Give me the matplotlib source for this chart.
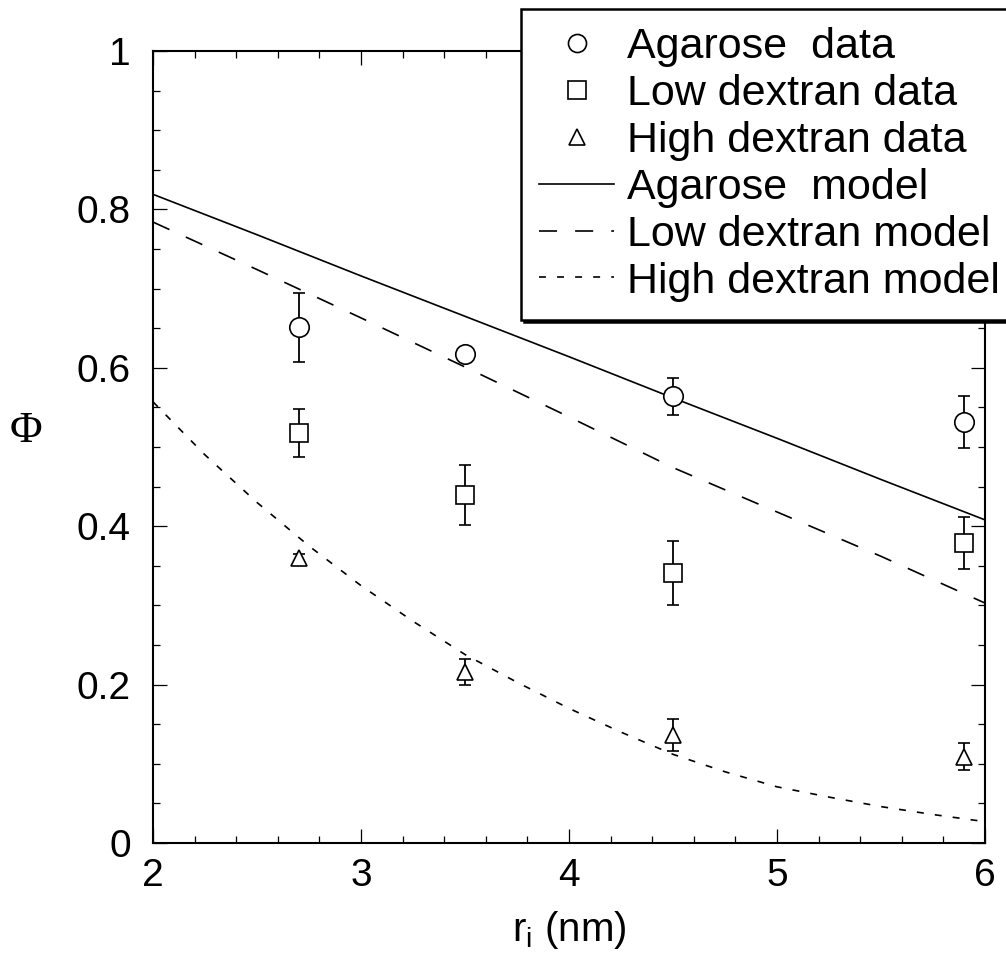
import matplotlib
matplotlib.use("Agg")
import matplotlib.pyplot as plt
from matplotlib.lines import Line2D
from matplotlib.ticker import MultipleLocator, FormatStrFormatter

plt.rcParams["font.family"] = ["Liberation Sans", "DejaVu Sans"]
plt.rcParams["lines.scale_dashes"] = False

# measured partition coefficients (mean, error) at each solute radius
r_data = [2.7, 3.5, 4.5, 5.9]
agarose_phi = [0.651, 0.617, 0.564, 0.532]
agarose_err = [0.044, 0.005, 0.023, 0.033]
low_phi = [0.518, 0.439, 0.341, 0.379]
low_err = [0.030, 0.038, 0.040, 0.033]
high_phi = [0.360, 0.216, 0.136, 0.109]
high_err = [0.005, 0.016, 0.020, 0.017]

# model predictions
r_model = [2.0, 2.5, 3.0, 3.5, 4.0, 4.5, 5.0, 5.5, 6.0]
agarose_model = [0.819, 0.768, 0.716, 0.665, 0.614, 0.562, 0.511, 0.459, 0.408]
low_model = [0.784, 0.724, 0.663, 0.601, 0.538, 0.474, 0.418, 0.362, 0.303]
r_model_fine = [2.0, 2.25, 2.5, 2.75, 3.0, 3.25, 3.5, 3.75, 4.0,
                4.25, 4.5, 4.75, 5.0, 5.25, 5.5, 5.75, 6.0]
high_model = [0.557, 0.49, 0.43, 0.375, 0.325, 0.28, 0.238, 0.203, 0.17,
              0.14, 0.112, 0.09, 0.071, 0.058, 0.046, 0.036, 0.027]

fig = plt.figure(figsize=(10.06, 9.58), dpi=100)
ax = fig.add_axes([0.1521, 0.12, 0.827, 0.8268])

lw = 1.2
dash = (0, (13, 13))
dot = (0, (5, 8))
ax.plot(r_model, agarose_model, color="k", lw=lw, ls="-")
ax.plot(r_model, low_model, color="k", lw=lw, ls=dash)
ax.plot(r_model_fine, high_model, color="k", lw=lw, ls=dot)

mk = dict(color="k", mfc="white", mec="k", mew=1.2, ls="none",
          ecolor="k", elinewidth=1.3, capsize=4, capthick=1.3, zorder=4)
ax.errorbar(r_data, agarose_phi, yerr=agarose_err, marker="o", ms=14, **mk)
ax.errorbar(r_data, low_phi, yerr=low_err, marker="s", ms=13, **mk)
ax.errorbar(r_data, high_phi, yerr=high_err, marker="^", ms=12, **mk)

ax.set_xlim(2, 6)
ax.set_ylim(0, 1)
ax.xaxis.set_major_locator(MultipleLocator(1))
ax.xaxis.set_minor_locator(MultipleLocator(0.2))
ax.yaxis.set_major_locator(MultipleLocator(0.2))
ax.yaxis.set_minor_locator(MultipleLocator(0.05))
ax.yaxis.set_major_formatter(FormatStrFormatter("%g"))
ax.tick_params(which="both", direction="in", top=True, right=True, width=0.9)
ax.tick_params(which="major", length=10)
ax.tick_params(which="minor", length=5)
ax.tick_params(axis="x", labelsize=28, pad=11)
ax.tick_params(axis="y", labelsize=28, pad=16)
for s in ax.spines.values():
    s.set_linewidth(1.5)

ax.set_xlabel(r"r$_\mathregular{i}$ (nm)", fontsize=29)
ax.xaxis.set_label_coords(0.5, -0.083, transform=ax.transAxes)
ax.xaxis.label.set_va("top")
ax.set_ylabel("Φ", fontsize=32, family="Liberation Serif", rotation=0,
              va="center")
ax.yaxis.set_label_coords(-0.153, 0.52)

handles = [
    Line2D([], [], marker="o", ms=13, mfc="white", mec="k", mew=1.2, ls="none"),
    Line2D([], [], marker="s", ms=13, mfc="white", mec="k", mew=1.2, ls="none"),
    Line2D([], [], marker="^", ms=11, mfc="white", mec="k", mew=1.2, ls="none"),
    Line2D([], [], color="k", lw=lw, ls="-"),
    Line2D([], [], color="k", lw=lw, ls=dash),
    Line2D([], [], color="k", lw=lw, ls=dot),
]
labels = ["Agarose  data", "Low dextran data", "High dextran data",
          "Agarose  model", "Low dextran model", "High dextran model"]
leg = ax.legend(handles, labels, loc="upper left",
                bbox_to_anchor=(521 / 1006, 1 - 9 / 958),
                bbox_transform=fig.transFigure, fontsize=31,
                handlelength=1.75, handletextpad=0.3, labelspacing=0.16,
                borderpad=0.42, borderaxespad=0, fancybox=False,
                framealpha=1, edgecolor="k",
                shadow={"color": "k", "alpha": 1})
leg.get_frame().set_linewidth(1.8)
leg.set_zorder(10)

fig.savefig("out.png", dpi=100)
